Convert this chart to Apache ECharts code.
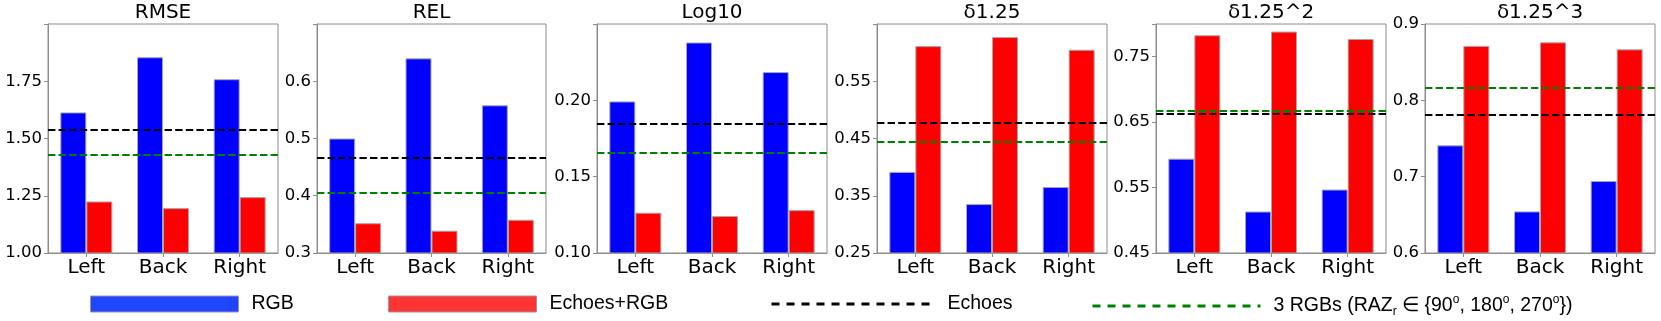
<!DOCTYPE html>
<html>
<head>
<meta charset="utf-8">
<script src="https://cdn.jsdelivr.net/npm/echarts@6/dist/echarts.min.js"></script>
<style>
html,body{margin:0;padding:0;background:#fff;}
#chart{width:1661px;height:321px;}
</style>
</head>
<body>
<div id="chart"></div>
<script>
// ---- data ----
const categories = ['Left', 'Back', 'Right'];
const titles = ['RMSE', 'REL', 'Log10', 'δ1.25', 'δ1.25^2', 'δ1.25^3'];
const rgbValues = [
  [1.614, 1.855, 1.759],
  [0.500, 0.640, 0.558],
  [0.1993, 0.2379, 0.2185],
  [0.3917, 0.3355, 0.3653],
  [0.5942, 0.5134, 0.547],
  [0.741, 0.6545, 0.6944]
];
const echoesRgbValues = [
  [1.225, 1.196, 1.244],
  [0.352, 0.339, 0.358],
  [0.1264, 0.1242, 0.1281],
  [0.6114, 0.6272, 0.605],
  [0.7828, 0.7884, 0.7771],
  [0.8713, 0.876, 0.8668]
];
const echoesValues = [1.538, 0.466, 0.1844, 0.4778, 0.6634, 0.7809];
const threeRgbsValues = [1.428, 0.406, 0.1655, 0.4444, 0.667, 0.8167];
const yMin = [1.0, 0.3, 0.10, 0.25, 0.45, 0.6];
const yMax = [2.0, 0.7, 0.25, 0.65, 0.80, 0.9];
const yStep = [0.25, 0.1, 0.05, 0.1, 0.1, 0.1];
const yTickLabels = [
  ['1.00', '1.25', '1.50', '1.75'],
  ['0.3', '0.4', '0.5', '0.6'],
  ['0.10', '0.15', '0.20'],
  ['0.25', '0.35', '0.45', '0.55'],
  ['0.45', '0.55', '0.65', '0.75'],
  ['0.6', '0.7', '0.8', '0.9']
];
const seriesNames = ['RGB', 'Echoes+RGB', 'Echoes', '3 RGBs'];

// ---- layout ----
const gridLeft = [48, 317, 597, 877, 1156, 1425];
const gridWidth = [230, 229, 230, 230, 230, 230];
const gridTop = 24, gridHeight = 229;
const frameColor = '#8c8c8c';
const labelFont = 'DejaVu Sans';

const grids = [], xAxes = [], yAxes = [], series = [], titleComps = [];
titles.forEach((t, i) => {
  grids.push({left: gridLeft[i], top: gridTop, width: gridWidth[i], height: gridHeight,
    show: true, borderColor: frameColor, borderWidth: 1, backgroundColor: 'transparent'});
  titleComps.push({text: t, left: gridLeft[i] + gridWidth[i] / 2, top: 3, textAlign: 'center', padding: 0,
    textStyle: {fontFamily: labelFont, fontSize: 20, fontWeight: 'normal', color: '#000'}});
  xAxes.push({type: 'category', gridIndex: i, data: categories,
    axisLine: {lineStyle: {color: frameColor, width: 1}},
    axisTick: {show: true, alignWithLabel: true, length: 4, lineStyle: {color: frameColor}},
    axisLabel: {fontFamily: labelFont, fontSize: 20, color: '#000', margin: 5},
    splitLine: {show: false}});
  const dec = yTickLabels[i][0].split('.')[1].length;
  const ticks = yTickLabels[i];
  yAxes.push({type: 'value', gridIndex: i, min: yMin[i], max: yMax[i], interval: yStep[i],
    axisLine: {show: true, lineStyle: {color: frameColor, width: 1}},
    axisTick: {show: true, length: 4, lineStyle: {color: frameColor}},
    splitLine: {show: false},
    axisLabel: {fontFamily: labelFont, fontSize: 16.5, color: '#000', margin: 6,
      showMaxLabel: true,
      formatter: v => { const s = v.toFixed(dec); return ticks.includes(s) ? s : ''; }}});
  series.push({name: seriesNames[0], type: 'bar', xAxisIndex: i, yAxisIndex: i, data: rgbValues[i],
    barWidth: 26, barGap: '0%',
    itemStyle: {color: '#0000ff', borderColor: '#a8a8a8', borderWidth: 1}});
  series.push({name: seriesNames[1], type: 'bar', xAxisIndex: i, yAxisIndex: i, data: echoesRgbValues[i],
    barWidth: 26, barGap: '0%',
    itemStyle: {color: '#ff0000', borderColor: '#a8a8a8', borderWidth: 1}});
  series.push({name: seriesNames[2], type: 'line', xAxisIndex: i, yAxisIndex: i, data: [],
    symbol: 'none', itemStyle: {color: '#000'}, lineStyle: {color: '#000', width: 3, type: [8, 7]},
    markLine: {silent: true, precision: 5, symbol: ['none', 'none'], label: {show: false},
      lineStyle: {color: '#000', width: 2.2, type: [7.4, 3.2]},
      data: [{yAxis: echoesValues[i]}]}});
  series.push({name: seriesNames[3], type: 'line', xAxisIndex: i, yAxisIndex: i, data: [],
    symbol: 'none', itemStyle: {color: '#008000'}, lineStyle: {color: '#008000', width: 3, type: [8, 7]},
    markLine: {silent: true, precision: 5, symbol: ['none', 'none'], label: {show: false},
      lineStyle: {color: '#008000', width: 2, type: [7.4, 3.2]},
      data: [{yAxis: threeRgbsValues[i]}]}});
});

const legendText = {fontFamily: 'Liberation Sans', fontSize: 19.5, color: '#000', padding: [0, 0, 0, 8],
  rich: {
    sub: {fontFamily: 'Liberation Sans', fontSize: 12, color: '#000', verticalAlign: 'bottom', lineHeight: 24, padding: [8, 0, 0, 0]},
    sup: {fontFamily: 'Liberation Sans', fontSize: 12, color: '#000', verticalAlign: 'top', lineHeight: 24, padding: [0, 0, 8, 0]}
  }};
function mkLegend(item, left, w, extra) {
  return Object.assign({show: true, left: left, top: 294, padding: 0, itemWidth: w, itemHeight: 16,
    selectedMode: false, textStyle: legendText, data: [item]}, extra || {});
}
const hiddenSymbol = {opacity: 0, borderWidth: 0};
const legends = [
  mkLegend({name: 'RGB', icon: 'rect', itemStyle: {color: '#1f45ff', borderColor: '#9a9a9a', borderWidth: 1}}, 90, 148),
  mkLegend({name: 'Echoes+RGB', icon: 'rect', itemStyle: {color: '#ff3535', borderColor: '#9a9a9a', borderWidth: 1}}, 388, 148),
  mkLegend({name: 'Echoes', itemStyle: hiddenSymbol, lineStyle: {color: '#000', width: 3, type: [8, 7], opacity: 1}}, 770, 163),
  mkLegend({name: '3 RGBs', itemStyle: hiddenSymbol, lineStyle: {color: '#008000', width: 3, type: [8, 7], opacity: 1}}, 1091, 168,
    {formatter: () => '3 RGBs (RAZ{sub|r} ∈ {90{sup|o}, 180{sup|o}, 270{sup|o}})'})
];

const chart = echarts.init(document.getElementById('chart'), null, {renderer: 'canvas'});
chart.setOption({
  animation: false,
  backgroundColor: '#fff',
  title: titleComps,
  grid: grids,
  xAxis: xAxes,
  yAxis: yAxes,
  legend: legends,
  series: series
});
</script>
</body>
</html>
